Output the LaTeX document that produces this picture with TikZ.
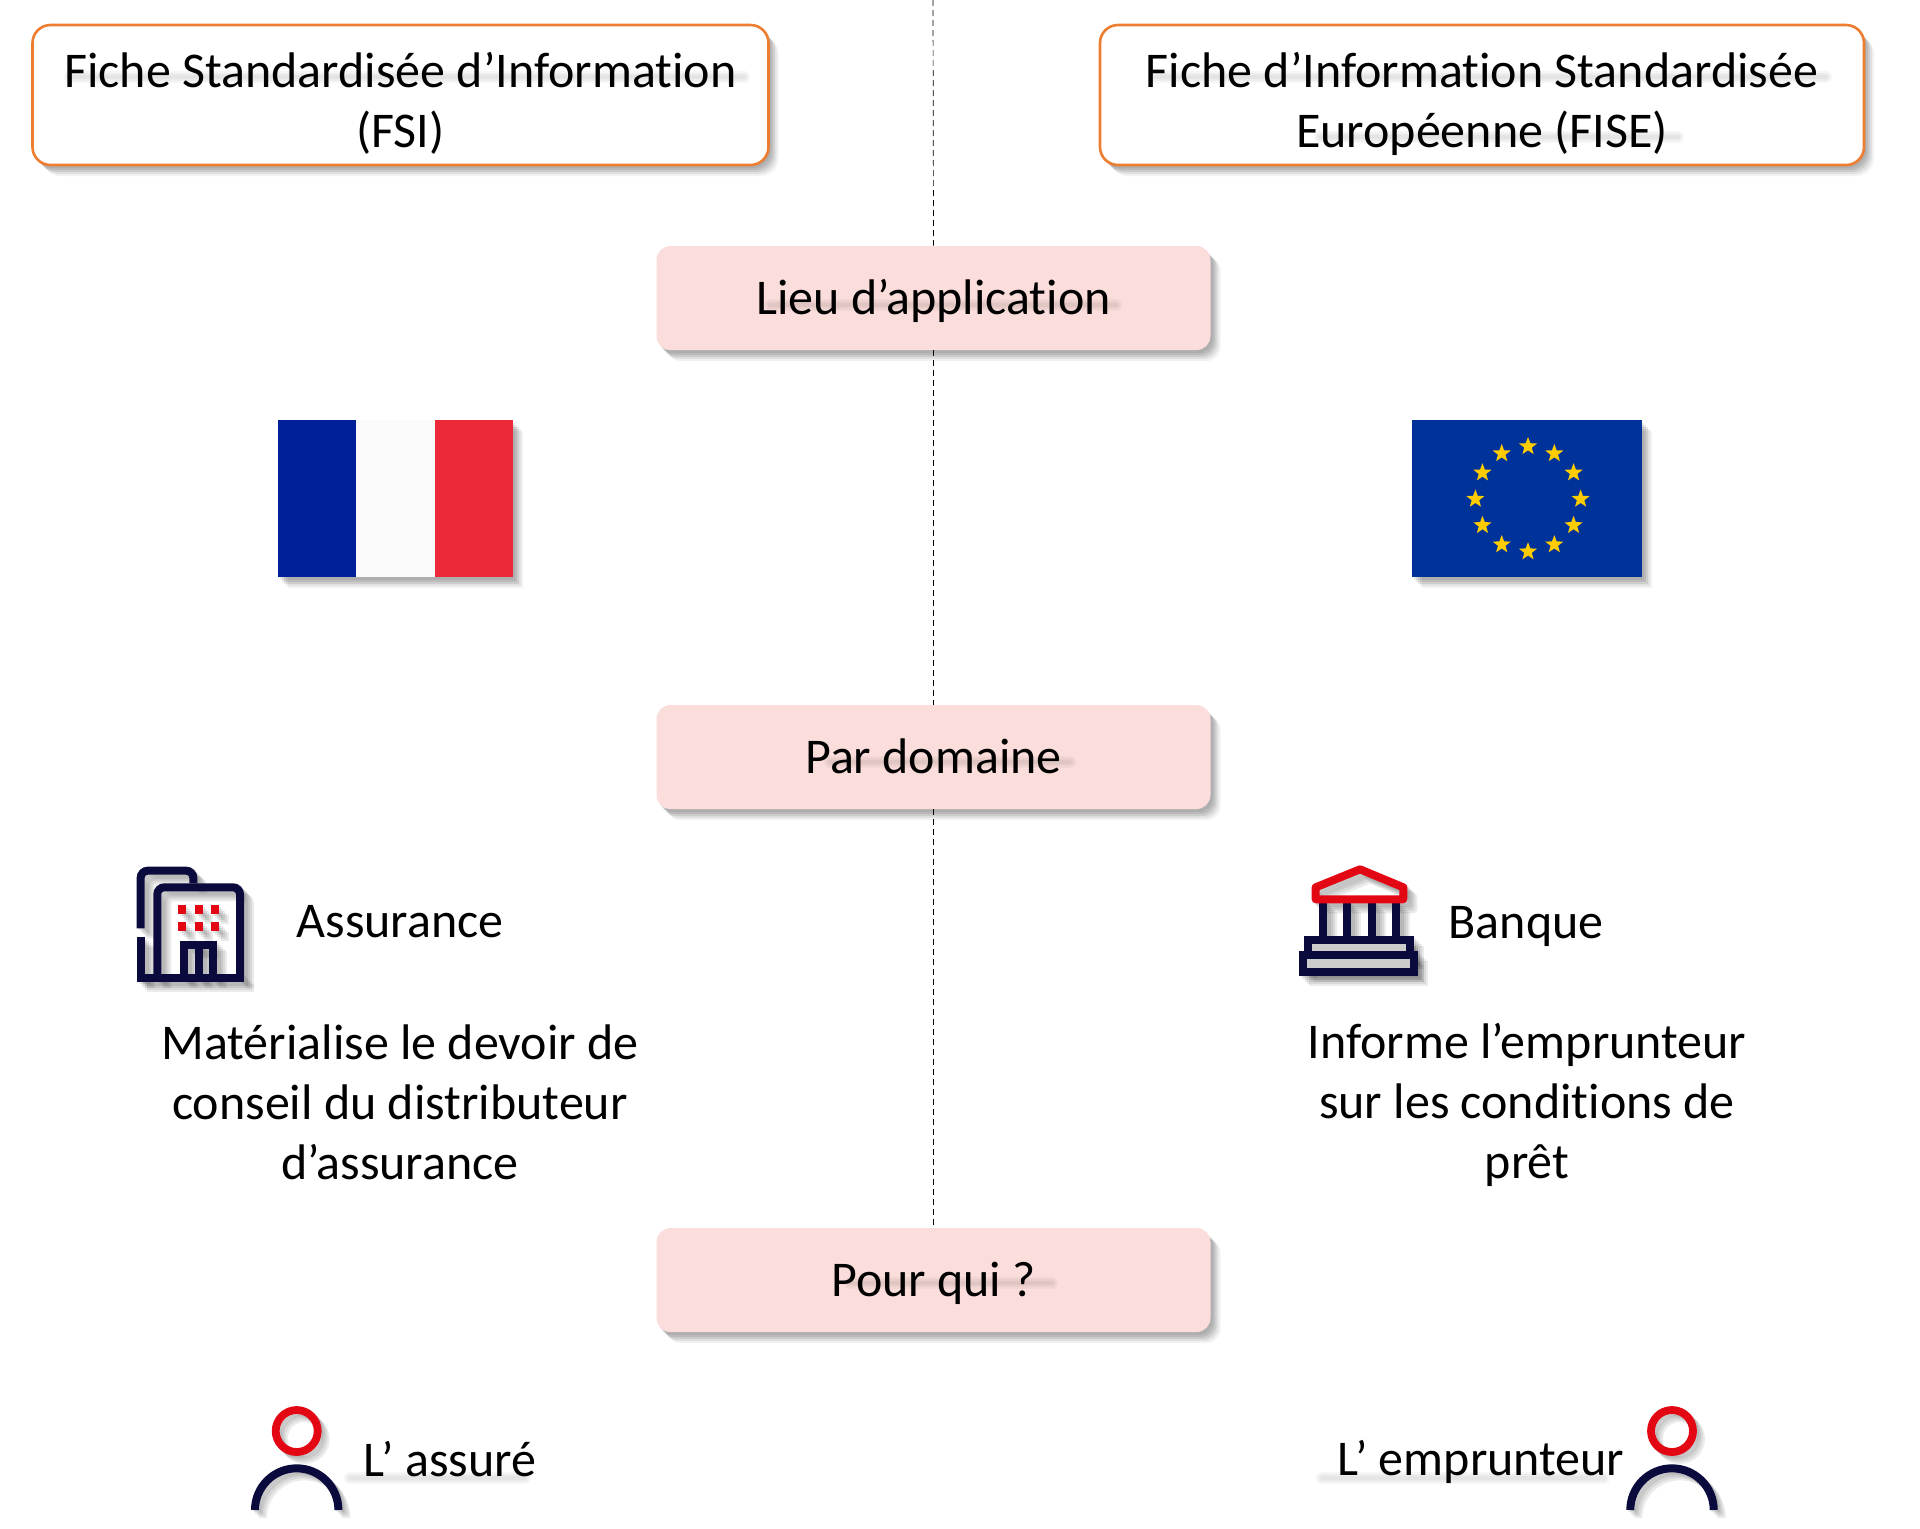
\documentclass[tikz,border=0pt]{standalone}
\usepackage{fontspec}
\setmainfont[Ligatures=NoCommon]{Carlito}
\usepackage{tikz}
\usetikzlibrary{shapes,shadows,positioning,calc}

\definecolor{boxorange}{HTML}{ED7D31}
\definecolor{boxpink}{HTML}{FBDEDB}
\definecolor{iconnavy}{HTML}{0A0A3C}
\definecolor{iconred}{HTML}{E30613}
\definecolor{frblue}{HTML}{00209A}
\definecolor{frred}{HTML}{ED2939}
\definecolor{eublue}{HTML}{003399}
\definecolor{eustar}{HTML}{FFCC00}

\tikzset{
	softshadow/.style={
		general shadow={fill=black,opacity=.07,shadow xshift=1pt,shadow yshift=-1.5pt},
		general shadow={fill=black,opacity=.09,shadow xshift=2pt,shadow yshift=-2.5pt},
		general shadow={fill=black,opacity=.09,shadow xshift=3pt,shadow yshift=-3.5pt},
		general shadow={fill=black,opacity=.07,shadow xshift=4pt,shadow yshift=-4.5pt},
		general shadow={fill=black,opacity=.05,shadow xshift=5pt,shadow yshift=-5.5pt},
	},
	label/.style={font=\fontsize{25}{30}\selectfont,align=center,text=black},
	titlebox/.style={label,rectangle,rounded corners=9pt,draw=boxorange,line width=1.3pt,fill=white,minimum width=368pt,minimum height=70pt,text height=52pt,text depth=0pt,softshadow},
	sectionbox/.style={label,rectangle,rounded corners=7pt,fill=boxpink,minimum width=277pt,minimum height=52pt,text height=16.5pt,text depth=0pt,softshadow},
	eustarnode/.style={star,star points=5,star point ratio=2.4,fill=eustar,inner sep=0pt,minimum size=9.5pt},
	smudge/.style={line cap=round,black,blend mode=multiply,opacity=.035},
}

\newcommand{\buildingicon}[2]{
	\draw[#1,line width=4pt,rounded corners=3.5pt] (40.7,88.3) -- (40.7,30.7) -- (93.3,30.7) -- (93.3,43.3);
	\draw[#1,line width=4pt] (40.7,96.7) -- (40.7,138);
	\draw[#1,line width=4pt,rounded corners=3.5pt] (57.3,138) -- (57.3,47.3) -- (140,47.3) -- (140,138);
	\draw[#1,line width=4pt] (36.7,138.3) -- (144,138.3);
	\draw[#1,line width=4pt] (84,138) -- (84,105.3) -- (113.3,105.3) -- (113.3,138);
	\draw[#1,line width=4pt] (98.7,105.3) -- (98.7,138);
	\foreach \x in {78,94.5,111}{
		\foreach \y in {64.7,81.5}
			\fill[#2] (\x,\y) rectangle ++(8.3,9.5);
	}
}
\newcommand{\bankicon}[3]{
	\draw[#1,fill=#3,line width=4pt] (28,89.7) rectangle (130,105.3);
	\draw[#1,fill=#3,line width=4pt] (22.7,105.3) rectangle (134.3,122);
	\foreach \x in {42.7,67,91.7,116}
		\draw[#1,line width=4pt] (\x,52) -- (\x,86);
	\draw[#2,line width=4pt,line join=round] (35.7,49.3) -- (35.7,37.3) -- (80,19.3) -- (123.3,37.3) -- (123.3,49.3) -- cycle;
}
\newcommand{\personicon}[2]{
	\draw[#2,line width=3.9pt] (0,0) circle[radius=21];
	\draw[#1,line width=4pt] (-41.7,79) arc[start angle=180,end angle=360,radius=41.7];
}

\begin{document}
\begin{tikzpicture}[x=0.5pt,y=-0.5pt]
	\useasboundingbox (0,0) rectangle (1920,1528);

	\coordinate (dashtop) at (933,0);
	\node[titlebox] (fsi) at (400.5,95) {Fiche Standardisée d’Information\\(FSI)};
	\node[titlebox,minimum width=382pt] (fise) at (1482,95) {Fiche d’Information Standardisée\\Européenne (FISE)};
	\node[sectionbox] (lieu) at (933.5,298) {Lieu d’application};
	\node[sectionbox] (domaine) at (933.5,757) {Par domaine};
	\node[sectionbox] (pourqui) at (933.5,1280) {Pour qui ?};

	\draw[densely dashed,line width=0.35pt] (dashtop) -- (lieu.north);
	\draw[densely dashed,line width=0.35pt] (lieu.south) -- (domaine.north);
	\draw[densely dashed,line width=0.35pt] (domaine.south) -- (pourqui.north);

	% flags
	\begin{scope}
		\fill[white!98!black,softshadow] (278,420) rectangle (513,577);
		\fill[frblue] (278,420) rectangle (356,577);
		\fill[frred] (435,420) rectangle (513,577);
	\end{scope}

	\begin{scope}
		\fill[eublue,softshadow] (1412,420) rectangle (1642,577);
		\foreach \a in {0,30,...,330}
			\node[eustarnode] (star\a) at ($(1528,499)+(\a:52.6)$) {};
	\end{scope}

	% icons
	\begin{scope}[shift={(100,840)}]
		\foreach \s in {2,4,6,8,10}{
			\begin{scope}[shift={(\s,\s)},opacity=.08]
				\buildingicon{black}{black}
			\end{scope}
		}
		\buildingicon{iconnavy}{iconred}
	\end{scope}

	\begin{scope}[shift={(1280,850)}]
		\foreach \s in {2,4,6,8,10}{
			\begin{scope}[shift={(\s,\s)},opacity=.08]
				\bankicon{black}{black}{black}
			\end{scope}
		}
		\bankicon{iconnavy}{iconred}{black!20}
	\end{scope}

	\foreach \px in {296.7,1672}{
		\begin{scope}[shift={(\px,1431)}]
			\foreach \s in {2,4,6,8}{
				\begin{scope}[shift={(\s,\s)},opacity=.08]
					\personicon{black}{black}
				\end{scope}
			}
			\personicon{iconnavy}{iconred}
		\end{scope}
	}

	% texts
	\node[label] (assurance) at (400,922) {Assurance};
	\node[label] (banque) at (1526,926) {Banque};
	\node[label] (conseil) at (400,1102) {Matérialise le devoir de\\conseil du distributeur\\d’assurance};
	\node[label] (informe) at (1527,1105) {Informe l’emprunteur\\sur les conditions de\\prêt};
	\node[label] (assure) at (450,1459) {L’ assuré};
	\node[label] (emprunteur) at (1481,1462) {L’ emprunteur};

	% soft trails of the text shadows
	\foreach \xa/\xb/\yy in {70/744/77,1155/1826/77,1320/1678/137,770/1116/305,830/1070/762,850/1052/1283,350/525/1478,1322/1604/1478}{
		\foreach \lw in {2,4,6}
			\draw[smudge,line width=\lw pt] (\xa,\yy) -- (\xb,\yy);
	}
\end{tikzpicture}
\end{document}
